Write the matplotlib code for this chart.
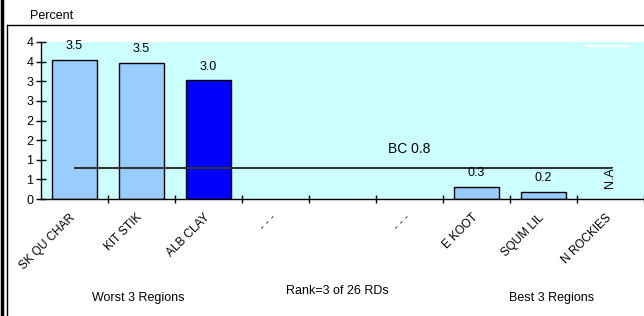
import matplotlib
matplotlib.use("Agg")
import matplotlib.pyplot as plt
import matplotlib.transforms as mtransforms
from matplotlib.lines import Line2D
import numpy as np

plt.rcParams['font.family'] = ['Liberation Sans', 'DejaVu Sans']

categories = ["SK QU CHAR", "KIT STIK", "ALB CLAY", "- - -", "", "- - -", "E KOOT", "SQUM LIL", "N ROCKIES"]
values = [3.55, 3.46, 3.02, None, None, None, 0.31, 0.19, None]
value_labels = ["3.5", "3.5", "3.0", "", "", "", "0.3", "0.2", ""]
highlight = [False, False, True, False, False, False, False, False, False]
bc_value = 0.8
bc_label = "BC 0.8"
ytick_values = [0, 0.5, 1, 1.5, 2, 2.5, 3, 3.5, 4]
ytick_labels = ["0", "1", "1", "2", "2", "3", "3", "4", "4"]

W, H = 644, 316
fig = plt.figure(figsize=(W / 100, H / 100), dpi=100)
fig.patch.set_facecolor("white")

ax = fig.add_axes([41 / W, 1 - 199 / H, (644 - 41) / W, (199 - 42) / H])
ax.set_facecolor("#CCFFFF")

x = np.arange(len(categories))
for i, v in enumerate(values):
    if v is None:
        continue
    color = "#0000FF" if highlight[i] else "#99CCFF"
    ax.bar(x[i], v, width=0.66, color=color, edgecolor="black", linewidth=1.0, zorder=2)
    ax.text(x[i], v + 0.2, value_labels[i], ha="center", va="bottom", fontsize=9, zorder=4)

# BC line
ax.plot([x[0], x[-1]], [bc_value, bc_value], color="#333333", linewidth=1.5, zorder=3)
ax.text(5, 1.27, bc_label, ha="center", va="center", fontsize=10)
ax.text(x[-1], 0.58, "N.A.", rotation=90, ha="center", va="center", fontsize=9)

ax.set_xlim(-0.5, len(categories) - 0.5)
ax.set_ylim(0, 4)
ax.set_yticks(ytick_values)
ax.set_yticklabels(ytick_labels, fontsize=9)
ax.tick_params(axis="y", direction="inout", length=7, width=1, pad=2)

ax.set_xticks(x)
ax.set_xticklabels(categories, rotation=45, ha="right", rotation_mode="anchor", fontsize=8.5)
ax.tick_params(axis="x", which="major", length=0, pad=9)
offset = mtransforms.ScaledTranslation(-5 / 100, 0, fig.dpi_scale_trans)
for lbl in ax.get_xticklabels():
    lbl.set_transform(lbl.get_transform() + offset)
ax.set_xticks(np.arange(0.5, len(categories), 1.0), minor=True)
ax.tick_params(axis="x", which="minor", direction="inout", length=6, width=1)

for s in ["top", "right"]:
    ax.spines[s].set_visible(False)
ax.spines["left"].set_linewidth(1)
ax.spines["bottom"].set_linewidth(1)

# small white line artifact in top right
fig.add_artist(Line2D([587 / W, 627 / W], [1 - 46 / H, 1 - 46 / H], color="white", linewidth=1.5))

# frame
fig.add_artist(Line2D([1.5 / W, 1.5 / W], [0, 1], color="black", linewidth=2.5))
fig.add_artist(Line2D([6.5 / W, 6.5 / W], [0, 1 - 25 / H], color="black", linewidth=1))
fig.add_artist(Line2D([6.5 / W, 1], [1 - 25 / H, 1 - 25 / H], color="black", linewidth=1))

fig.text(30 / W, 1 - 16 / H, "Percent", ha="left", va="center", fontsize=9)
fig.text(138 / W, 1 - 298 / H, "Worst 3 Regions", ha="center", va="center", fontsize=9)
fig.text(337 / W, 1 - 291 / H, "Rank=3 of 26 RDs", ha="center", va="center", fontsize=9)
fig.text(552 / W, 1 - 298 / H, "Best 3 Regions", ha="center", va="center", fontsize=9)

fig.savefig("out.png", dpi=100)
